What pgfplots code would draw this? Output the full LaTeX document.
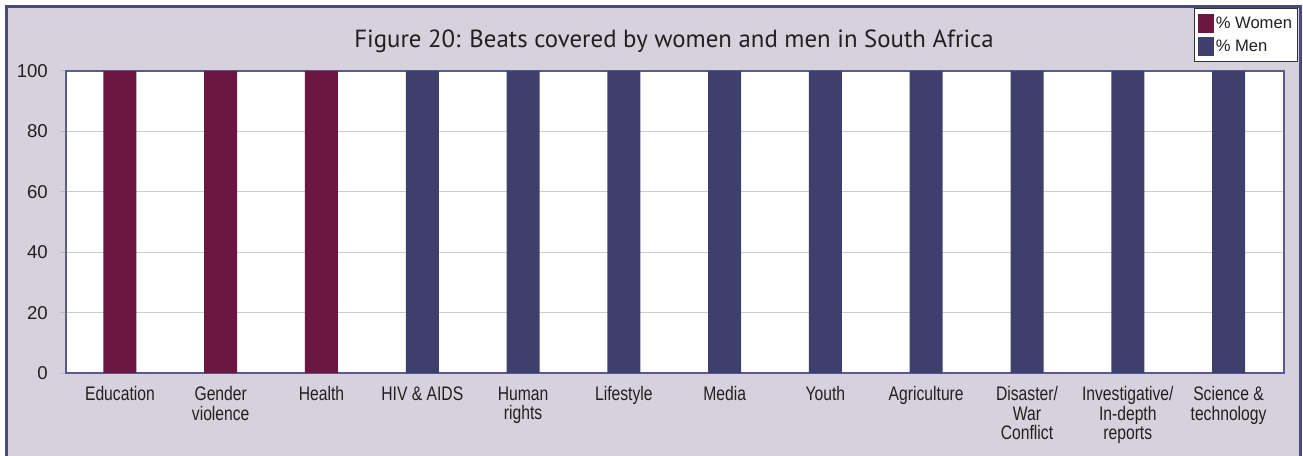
\documentclass[border=0pt]{standalone}
\usepackage{pgfplots}
\pgfplotsset{compat=1.18}
\usepackage{fontspec}
\setmainfont{Liberation Sans}
\newfontfamily\titlefont{PT Sans}
\newfontfamily\narrowfont[FakeStretch=0.8]{Liberation Sans}

\definecolor{panelbg}{HTML}{D5D2DE}
\definecolor{framecol}{HTML}{4A4A80}
\definecolor{axiscol}{HTML}{5A5A90}
\definecolor{womencol}{HTML}{6B1741}
\definecolor{mencol}{HTML}{3E3F6D}
\definecolor{textcol}{HTML}{231F20}

\begin{document}
\begin{tikzpicture}[x=1pt,y=1pt]
  % page: 1303 x 455, axis box lower-left at the origin
  \path[use as bounding box] (-66,-82) rectangle (1237,373);
  \fill[white] (-66,-82) rectangle (1237,373);
  \begin{scope}
    \clip (-66,-82) rectangle (1237,373);
    \filldraw[fill=panelbg, draw=framecol, line width=3pt]
      (-59.5,366.5) rectangle (1234.5,-100);
  \end{scope}

  \node[font=\titlefont\fontsize{24.8}{28}\selectfont, text=textcol, anchor=base]
    at (608,325.3) {Figure 20: Beats covered by women and men in South Africa};

  \begin{axis}[
    at={(0,0)}, anchor=south west,
    scale only axis, width=1218pt, height=302pt,
    xmin=-0.535, xmax=11.55, ymin=0, ymax=100,
    ybar, bar width=33pt,
    axis background/.style={fill=white},
    axis line style={draw=axiscol, line width=1.5pt},
    xtick={0,...,11},
    xticklabels={Education, Gender\\violence, Health, HIV \& AIDS, Human\\rights,
      Lifestyle, Media, Youth, Agriculture, Disaster/\\War\\Conflict,
      Investigative/\\In-depth\\reports, Science \&\\technology},
    xticklabel style={font=\narrowfont\fontsize{19.6}{19.5}\selectfont,
      align=center, text=textcol, yshift=-4pt},
    x tick style={draw=none},
    ytick={0,20,...,100},
    ytick pos=left,
    /pgf/number format/assume math mode=true,
    yticklabel style={font=\fontsize{18.6}{20}\selectfont, text=textcol,
      inner sep=0pt, xshift=-12pt},
    tick align=outside, major tick length=6pt,
    y tick style={draw=gray!55, line width=1pt},
    ymajorgrids, grid style={draw=gray!40, line width=1pt},
    legend style={at={(1.0115,1.2086)}, anchor=north east,
      draw=black!80, line width=1pt, fill=white,
      font=\fontsize{16.6}{18}\selectfont, text=textcol,
      inner xsep=4pt, inner ysep=5.5pt, row sep=4pt,
      nodes={inner sep=1.5pt}},
    legend cell align=left,
    legend image code/.code={\fill[#1] (0pt,-9.5pt) rectangle (16pt,9.5pt);},
  ]
    \addplot[fill=womencol, draw=none, bar shift=0pt]
      coordinates {(0,100) (1,100) (2,100)};
    \addplot[fill=mencol, draw=none, bar shift=0pt]
      coordinates {(3,100) (4,100) (5,100) (6,100) (7,100) (8,100)
                   (9,100) (10,100) (11,100)};
    \legend{\% Women, \% Men}
  \end{axis}
\end{tikzpicture}
\end{document}
